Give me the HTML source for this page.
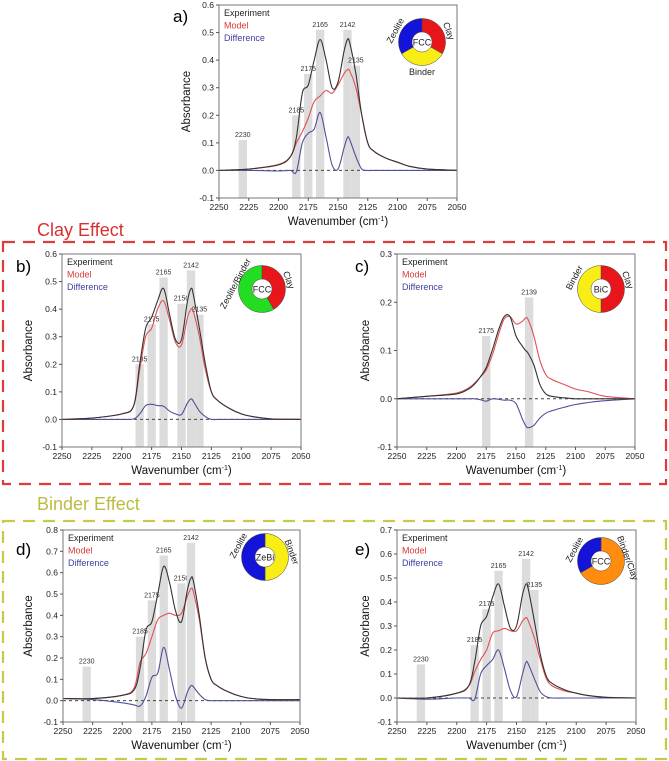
<!DOCTYPE html>
<html><head><meta charset="utf-8"><style>
body{margin:0;background:#fff;}
svg{display:block;font-family:"Liberation Sans",sans-serif;}
</style></head><body>
<svg id="fig" width="669" height="761" viewBox="0 0 669 761">
<rect x="3" y="242" width="663" height="242" fill="none" stroke="#e03a3a" stroke-width="2.2" stroke-dasharray="12,8"/>
<text x="37" y="236" font-size="18" fill="#d83030">Clay Effect</text>
<rect x="3" y="521" width="663" height="238" fill="none" stroke="#c8c84a" stroke-width="2.2" stroke-dasharray="12,8"/>
<text x="37" y="510" font-size="18" fill="#bcbc40">Binder Effect</text>
</svg>
<script>
const wn = [2250,2225,2200,2190,2185,2180,2175,2170,2165,2160,2155,2150,2145,2142,2140,2135,2130,2125,2120,2110,2100,2090,2075,2050];
const expA = [0,0.005,0.02,0.05,0.12,0.28,0.31,0.4,0.475,0.4,0.3,0.32,0.43,0.475,0.46,0.35,0.2,0.1,0.07,0.045,0.03,0.015,0.005,0];
const modA = [0,0.005,0.022,0.05,0.1,0.14,0.19,0.25,0.27,0.29,0.28,0.31,0.35,0.365,0.36,0.3,0.2,0.1,0.07,0.045,0.03,0.015,0.005,0];
const difA = [0,0,-0.002,0,-0.005,0.1,0.135,0.15,0.21,0.12,0.02,0.005,0.08,0.12,0.11,0.05,0.005,0,0,0,0,0,0,0];
const expB = [0,0.005,0.02,0.05,0.2,0.33,0.37,0.43,0.475,0.38,0.29,0.29,0.43,0.475,0.45,0.33,0.2,0.1,0.07,0.04,0.02,0.01,0.002,0];
const modB = [0,0.005,0.02,0.05,0.18,0.3,0.33,0.4,0.43,0.36,0.28,0.27,0.37,0.4,0.39,0.3,0.18,0.1,0.07,0.04,0.02,0.01,0.002,0];
const difB = [0,0,0,0.002,0.02,0.05,0.055,0.05,0.048,0.03,0.02,0.018,0.06,0.075,0.065,0.03,0.01,0,0,0,0,0,0,0];
const expC = [0,0.005,0.01,0.02,0.03,0.045,0.065,0.1,0.14,0.17,0.17,0.13,0.11,0.1,0.095,0.07,0.03,0.01,0.005,0.002,0,0,0,0];
const modC = [0,0.005,0.012,0.022,0.032,0.045,0.06,0.09,0.13,0.165,0.17,0.155,0.16,0.167,0.165,0.13,0.08,0.05,0.04,0.03,0.02,0.015,0.005,0];
const difC = [0,0,0,0,0,-0.002,-0.005,0,-0.001,-0.003,-0.003,-0.01,-0.04,-0.055,-0.06,-0.055,-0.04,-0.03,-0.025,-0.018,-0.012,-0.008,-0.004,0];
const expD = [0.01,0.01,0.025,0.05,0.15,0.33,0.37,0.5,0.63,0.55,0.42,0.37,0.52,0.575,0.56,0.4,0.2,0.1,0.07,0.04,0.02,0.01,0.005,0.005];
const modD = [0.01,0.01,0.025,0.06,0.18,0.22,0.3,0.38,0.4,0.41,0.4,0.41,0.49,0.525,0.51,0.38,0.2,0.1,0.07,0.04,0.02,0.01,0.005,0.005];
const difD = [0.01,0.005,-0.01,-0.02,-0.025,0.02,0.11,0.13,0.25,0.14,0.02,-0.035,0.04,0.07,0.065,0.03,0.005,0,0,0,0,0,0,0];
const expE = [0,0,0.02,0.05,0.15,0.3,0.34,0.42,0.475,0.38,0.29,0.3,0.43,0.475,0.45,0.32,0.18,0.09,0.06,0.035,0.02,0.01,0.003,0];
const modE = [0,0,0.02,0.05,0.11,0.16,0.2,0.27,0.28,0.29,0.28,0.28,0.32,0.335,0.32,0.25,0.16,0.08,0.05,0.03,0.02,0.01,0.003,0];
const difE = [0,-0.005,0,0,-0.005,0.1,0.135,0.16,0.2,0.12,0.03,0.005,0.1,0.15,0.14,0.08,0.025,0.005,0,0,0,0,0,0];
const bandPosA = [2230,2185,2175,2165,2142,2135];
const bandTopA = [0.11,0.2,0.35,0.51,0.51,0.38];
const bandPosB = [2185,2175,2165,2150,2142,2135];
const bandTopB = [0.2,0.345,0.515,0.42,0.54,0.38];
const bandPosC = [2175,2139];
const bandTopC = [0.13,0.21];
const bandPosD = [2230,2185,2175,2165,2150,2142];
const bandTopD = [0.16,0.3,0.47,0.68,0.55,0.74];
const bandPosE = [2230,2185,2175,2165,2142,2135];
const bandTopE = [0.14,0.22,0.37,0.53,0.58,0.45];
const xTicks = [2250,2225,2200,2175,2150,2125,2100,2075,2050];

const NS="http://www.w3.org/2000/svg";
const svg=document.getElementById('fig');
function mk(tag,attrs,parent){const e=document.createElementNS(NS,tag);for(const k in attrs)e.setAttribute(k,attrs[k]);(parent||svg).appendChild(e);return e;}

const panels=[
 {id:'a',x0:219,x1:457,y0:5,y1:198,ymax:0.6,ymin:-0.1,exp:expA,mod:modA,dif:difA,bp:bandPosA,bt:bandTopA,lx:173,ly:22,ylx:190,
  donut:{cx:422,cy:42,segs:[[0,120,'#e8161b'],[120,240,'#f8ee16'],[240,360,'#1414d8']],c:'FCC',labels:[['Zeolite',-24,-10,-62],['Clay',24,-10,70],['Binder',0,33,0]]}},
 {id:'b',x0:62,x1:301,y0:254,y1:447,ymax:0.6,ymin:-0.1,exp:expB,mod:modB,dif:difB,bp:bandPosB,bt:bandTopB,lx:16,ly:272,ylx:32,
  donut:{cx:262,cy:289,segs:[[0,150,'#e8161b'],[150,360,'#22dd22']],c:'FCC',labels:[['Zeolite/Binder',-24,-4,-62],['Clay',24,-8,70]]}},
 {id:'c',x0:397,x1:635,y0:254,y1:447,ymax:0.3,ymin:-0.1,exp:expC,mod:modC,dif:difC,bp:bandPosC,bt:bandTopC,lx:355,ly:272,ylx:369,
  donut:{cx:601,cy:289,segs:[[0,180,'#e8161b'],[180,360,'#f8ee16']],c:'BiC',labels:[['Binder',-24,-10,-62],['Clay',24,-8,70]]}},
 {id:'d',x0:63,x1:300,y0:530,y1:722,ymax:0.8,ymin:-0.1,exp:expD,mod:modD,dif:difD,bp:bandPosD,bt:bandTopD,lx:16,ly:555,ylx:32,
  donut:{cx:265,cy:557,segs:[[0,180,'#f8ee16'],[180,360,'#1414d8']],c:'ZeBi',labels:[['Zeolite',-24,-10,-62],['Binder',24,-4,70]]}},
 {id:'e',x0:397,x1:636,y0:530,y1:722,ymax:0.7,ymin:-0.1,exp:expE,mod:modE,dif:difE,bp:bandPosE,bt:bandTopE,lx:355,ly:555,ylx:369,
  donut:{cx:601,cy:561,segs:[[0,240,'#ff8c0f'],[240,360,'#1414d8']],c:'FCC',labels:[['Zeolite',-24,-10,-62],['Binder/Clay',24,-2,70]]}}
];

function smooth(pts){let d='M'+pts[0][0].toFixed(1)+','+pts[0][1].toFixed(1);
 for(let i=0;i<pts.length-1;i++){const p0=pts[Math.max(0,i-1)],p1=pts[i],p2=pts[i+1],p3=pts[Math.min(pts.length-1,i+2)];
  const c1=[p1[0]+(p2[0]-p0[0])/6,p1[1]+(p2[1]-p0[1])/6],c2=[p2[0]-(p3[0]-p1[0])/6,p2[1]-(p3[1]-p1[1])/6];
  d+=' C'+c1.map(v=>v.toFixed(1))+' '+c2.map(v=>v.toFixed(1))+' '+p2.map(v=>v.toFixed(1));}
 return d;}
function arc(cx,cy,r0,r1,a0,a1){const rad=a=>(a-90)*Math.PI/180;const P=(r,a)=>[cx+r*Math.cos(rad(a)),cy+r*Math.sin(rad(a))];
 const L=(a1-a0)>180?1:0;const p1=P(r1,a0),p2=P(r1,a1),p3=P(r0,a1),p4=P(r0,a0);
 return `M${p1} A${r1},${r1} 0 ${L} 1 ${p2} L${p3} A${r0},${r0} 0 ${L} 0 ${p4} Z`;}

panels.forEach(p=>{
 const g=mk('g',{});
 
 
 const X=w=>p.x0+(2250-w)/200*(p.x1-p.x0);
 const Y=v=>p.y1-(v-p.ymin)/(p.ymax-p.ymin)*(p.y1-p.y0);
 p.bp.forEach((w,i)=>{
  const r=mk('rect',{x:X(w+3.5),y:Y(p.bt[i]),width:X(w-3.5)-X(w+3.5),height:p.y1-Y(p.bt[i]),fill:'#dcdcdc'},g);
  
  
  const t=mk('text',{x:X(w),y:Y(p.bt[i])-3,'font-size':7,'text-anchor':'middle',fill:'#333'},g);t.textContent=w;
  
  
 });
 const z=mk('line',{x1:p.x0,x2:p.x1,y1:Y(0),y2:Y(0),stroke:'#444','stroke-width':1,'stroke-dasharray':'3,3'},g);
 
 
 [[p.dif,'#50509a','difference-line'],[p.mod,'#e05050','model-line'],[p.exp,'#333','experiment-line']].forEach(s=>{
  const pts=wn.map((w,i)=>[X(w),Y(s[0][i])]);
  const path=mk('path',{d:smooth(pts),fill:'none',stroke:s[1],'stroke-width':1.1},g);
  
  
 });
 const f=mk('rect',{x:p.x0,y:p.y0,width:p.x1-p.x0,height:p.y1-p.y0,fill:'none',stroke:'#777','stroke-width':1},g);
 
 
 for(let k=Math.round(p.ymin*10);k<=Math.round(p.ymax*10);k++){const v=k/10;
  mk('line',{x1:p.x0-3,x2:p.x0,y1:Y(v),y2:Y(v),stroke:'#555'},g);
  const t=mk('text',{x:p.x0-5,y:Y(v)+3,'font-size':8.5,'text-anchor':'end',fill:'#222'},g);t.textContent=v.toFixed(1);
  
  }
 xTicks.forEach(w=>{mk('line',{x1:X(w),x2:X(w),y1:p.y1,y2:p.y1+3,stroke:'#555'},g);
  const t=mk('text',{x:X(w),y:p.y1+12,'font-size':8.5,'text-anchor':'middle',fill:'#222'},g);t.textContent=w;
  
  });
 const xl=mk('text',{x:(p.x0+p.x1)/2,y:p.y1+27,'font-size':11.5,'text-anchor':'middle',fill:'#111'},g);
 xl.innerHTML='Wavenumber (cm<tspan font-size="7" dy="-4">-1</tspan><tspan dy="4">)</tspan>';
 
 
 const yl=mk('text',{x:p.ylx,y:(p.y0+p.y1)/2,'font-size':11.5,'text-anchor':'middle',fill:'#111',transform:`rotate(-90 ${p.ylx} ${(p.y0+p.y1)/2})`},g);
 yl.textContent='Absorbance';
 
 
 const pl=mk('text',{x:p.lx,y:p.ly,'font-size':17,fill:'#000'},g);pl.textContent=p.id+')';
 
 
 [['Experiment','#222'],['Model','#d83a3a'],['Difference','#4040a0']].forEach((l,i)=>{
  const t=mk('text',{x:p.x0+5,y:p.y0+11+i*12.5,'font-size':9,fill:l[1]},g);t.textContent=l[0];
  
  });
 const d=p.donut;
 const dg=mk('g',{},g);
 
 
 d.segs.forEach(s=>{mk('path',{d:arc(d.cx,d.cy,10,23.5,s[0],s[1]),fill:s[2],stroke:'#444','stroke-width':0.5},dg);});
 const ct=mk('text',{x:d.cx,y:d.cy+3.5,'font-size':9,'text-anchor':'middle',fill:'#222'},dg);ct.textContent=d.c;
 d.labels.forEach(l=>{const tx=d.cx+l[1],ty=d.cy+l[2];
  const t=mk('text',{x:tx,y:ty,'font-size':9,'text-anchor':'middle',fill:'#222',transform:`rotate(${l[3]} ${tx} ${ty})`},dg);t.textContent=l[0];
  
  });
});
</script>
</body></html>
